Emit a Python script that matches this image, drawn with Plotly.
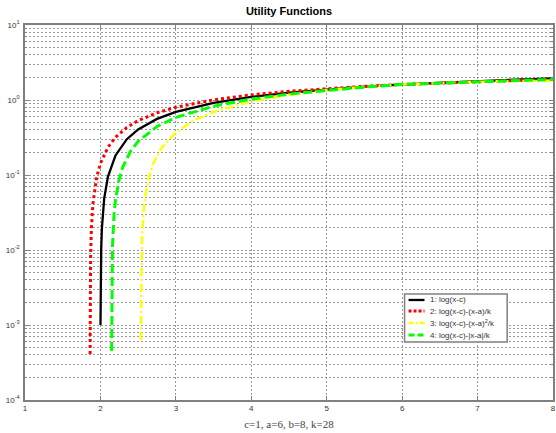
import plotly.graph_objects as go

# Values (c=1, a=6, b=8, k=28)
x1 = [2.001, 2.002, 2.005, 2.01, 2.02, 2.05, 2.1, 2.2, 2.35, 2.5, 2.75, 3, 3.5, 4, 4.5, 5, 5.5, 6, 6.5, 7, 7.5, 8]
y1 = [0.0010, 0.0020, 0.00499, 0.00995, 0.0198, 0.0488, 0.0953, 0.1823, 0.3001, 0.4055, 0.5596, 0.6931,
      0.9163, 1.0986, 1.2528, 1.3863, 1.5041, 1.6094, 1.7047, 1.7918, 1.8718, 1.9459]

x2 = [1.863, 1.865, 1.87, 1.88, 1.9, 1.95, 2.0, 2.1, 2.2, 2.35, 2.5, 2.75, 3, 3.5, 4, 4.5, 5, 5.5, 6, 6.5, 7, 7.5, 8]
y2 = [0.00041, 0.00266, 0.00823, 0.01931, 0.04107, 0.09335, 0.14286, 0.23460, 0.31804, 0.43046, 0.53047,
      0.67569, 0.80029, 1.00558, 1.17004, 1.30633, 1.42201, 1.52194, 1.60944, 1.68689, 1.75605, 1.81823, 1.87448]

x3 = [2.536, 2.538, 2.54, 2.545, 2.55, 2.57, 2.6, 2.65, 2.7, 2.8, 3, 3.25, 3.5, 4, 4.5, 5, 5.5, 6, 6.5, 7, 7.5, 8]
y3 = [0.00063, 0.00243, 0.00423, 0.00870, 0.01317, 0.03090, 0.05715, 0.09997, 0.14170, 0.22207, 0.37172,
      0.54084, 0.69308, 0.95576, 1.17241, 1.35058, 1.49515, 1.60944, 1.69582, 1.75605, 1.79145, 1.80305]

x4 = [2.148, 2.149, 2.15, 2.155, 2.16, 2.18, 2.2, 2.25, 2.3, 2.4, 2.5, 2.75, 3, 3.5, 4, 4.5, 5, 5.5, 6, 6.5, 7, 7.5, 8]
y4 = [0.00045, 0.00136, 0.00226, 0.00678, 0.01128, 0.02909, 0.04661, 0.08922, 0.13022, 0.20790, 0.28047,
      0.44355, 0.58600, 0.82701, 1.02718, 1.19919, 1.35058, 1.48622, 1.60944, 1.68689, 1.75605, 1.81823, 1.87448]

names = ["1: log(x-c)", "2: log(x-c)-(x-a)/k", "3: log(x-c)-(x-a)<sup>2</sup>/k", "4: log(x-c)-|x-a|/k"]

x_ticks = [1, 2, 3, 4, 5, 6, 7, 8]
y_exps = [-4, -3, -2, -1, 0, 1]

styles = [
    dict(color="#000000", width=2.3, dash="solid"),
    dict(color="#FF0000", width=3, dash="3px,3px"),
    dict(color="#FFFF00", width=2.5, dash="8px,3px,2px,3px"),
    dict(color="#00FF00", width=3, dash="9px,4px"),
]
legend_dash = ["solid", "3px,2px", "5px,2px,2px,2px", "6px,3px"]

fig = go.Figure()
for xs, ys, nm, st in zip([x1, x2, x3, x4], [y1, y2, y3, y4], names, styles):
    fig.add_trace(go.Scatter(x=xs, y=ys, mode="lines", name=nm, line=st, showlegend=False))

# Compact MATLAB-style legend box (layout decoration in paper coordinates)
leg_x0, leg_x1, leg_y0, leg_y1 = 0.7189, 0.9132, 0.1547, 0.2827
row_y = [0.2667, 0.2373, 0.2053, 0.1733]
samp_x0, samp_x1, text_x = 0.7264, 0.7566, 0.7642
shapes = [dict(type="rect", xref="paper", yref="paper", x0=leg_x0, x1=leg_x1, y0=leg_y0, y1=leg_y1,
               line=dict(color="#808080", width=1.5), fillcolor="white", layer="above")]
annotations = []
for ry, nm, st, ld in zip(row_y, names, styles, legend_dash):
    shapes.append(dict(type="line", xref="paper", yref="paper", x0=samp_x0, x1=samp_x1, y0=ry, y1=ry,
                       line=dict(color=st["color"], width=st["width"], dash=ld), layer="above"))
    annotations.append(dict(xref="paper", yref="paper", x=text_x, y=ry, text=nm, showarrow=False,
                            xanchor="left", yanchor="middle",
                            font=dict(family="Arial, Liberation Sans", size=8, color="#333")))

grid_col = "#999999"
minor_vals = [m * 10 ** e for e in y_exps[:-1] for m in range(2, 10)]

fig.update_layout(
    width=556, height=433,
    margin=dict(l=25, r=1, t=25, b=33),
    paper_bgcolor="white", plot_bgcolor="white",
    title=dict(text="<b>Utility Functions</b>", xref="paper", x=0.5, xanchor="center",
               yref="container", y=1 - 11.5 / 433, yanchor="middle",
               font=dict(family="Arial, Liberation Sans", size=11, color="#000")),
    showlegend=False,
    shapes=shapes,
    annotations=annotations,
    font=dict(family="Arial, Liberation Sans", size=8, color="#333"),
)
fig.update_xaxes(
    range=[1, 8], tickvals=x_ticks, ticktext=[str(v) for v in x_ticks],
    showgrid=True, gridcolor=grid_col, griddash="2px,2px", gridwidth=1,
    showline=True, linecolor="#808080", linewidth=1.5, mirror="ticks",
    ticks="inside", ticklen=4, tickcolor="#808080", zeroline=False,
    tickfont=dict(size=8, color="#333"),
    title=dict(text="c=1, a=6, b=8, k=28", standoff=8,
               font=dict(family="Liberation Serif, Times New Roman", size=11, color="#444")),
)
fig.update_yaxes(
    type="log", range=[-4, 1],
    tickvals=[10 ** e for e in y_exps],
    ticktext=["10<sup>%d</sup>" % e for e in y_exps],
    showgrid=True, gridcolor=grid_col, griddash="2px,2px", gridwidth=1,
    minor=dict(tickvals=minor_vals, showgrid=True, gridcolor=grid_col, griddash="2px,2px", gridwidth=1,
               ticks="inside", ticklen=2, tickcolor="#808080"),
    showline=True, linecolor="#808080", linewidth=1.5, mirror="ticks",
    ticks="inside", ticklen=4, tickcolor="#808080", zeroline=False,
    tickfont=dict(size=8, color="#333"), ticklabelstandoff=2,
)

fig.write_html("out.html", config={"displayModeBar": False},
               post_script="document.body.style.margin='0px';")
